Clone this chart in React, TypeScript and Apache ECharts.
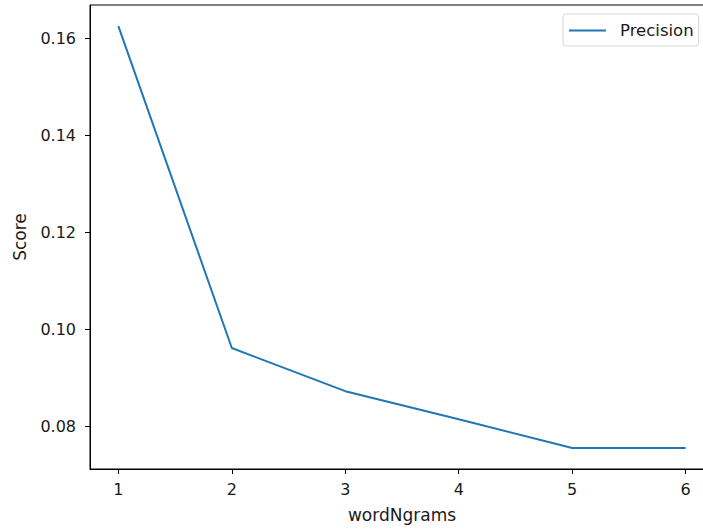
import React, { useEffect, useRef } from "react";
import * as echarts from "echarts";

const wordNgrams = [1, 2, 3, 4, 5, 6];
const precision = [0.1625, 0.0961, 0.0872, 0.0814, 0.0755, 0.0755];
const yTicks = [0.08, 0.1, 0.12, 0.14, 0.16];
const xTicks = [1, 2, 3, 4, 5, 6];

export default function App() {
  const ref = useRef<HTMLDivElement>(null);
  useEffect(() => {
    document.body.style.margin = "0";
    const chart = echarts.init(ref.current!, null, { renderer: "svg" });
    const font = "DejaVu Sans";
    const txt = "#1a1a1a";
    chart.setOption({
      animation: false,
      backgroundColor: "#fff",
      textStyle: { fontFamily: font },
      grid: {
        left: 90,
        top: 5,
        width: 624,
        height: 464,
        outerBoundsMode: "none",
        containLabel: false,
        show: true,
        borderColor: "#000",
        borderWidth: 1,
        backgroundColor: "transparent",
      },
      legend: {
        left: 563,
        top: 14,
        orient: "vertical",
        borderColor: "#d5d5d5",
        borderWidth: 1,
        borderRadius: 3,
        padding: [8, 5, 7, 6],
        itemWidth: 37,
        itemHeight: 17,
        itemGap: 10,
        textStyle: { fontSize: 16.5, color: txt, fontFamily: font, padding: [0, 0, 0, 9] },
        data: [{ name: "Precision", icon: "path://M0,7.5 L40,7.5 L40,9.5 L0,9.5 Z" }],
      },
      xAxis: {
        type: "value",
        min: 0.75,
        max: 6.25,
        name: "wordNgrams",
        nameLocation: "middle",
        nameGap: 37,
        nameTextStyle: { fontSize: 17, color: txt, fontFamily: font },
        splitLine: { show: false },
        axisLine: { show: true, lineStyle: { color: "#000", width: 1 } },
        axisTick: { show: true, length: 5, lineStyle: { color: "#000" }, customValues: xTicks },
        axisLabel: {
          fontSize: 16,
          color: txt,
          margin: 12,
          fontFamily: font,
          customValues: xTicks,
          formatter: (v: number) => String(v),
        },
      },
      yAxis: {
        type: "value",
        min: 0.07115,
        max: 0.16685,
        name: "Score",
        nameLocation: "middle",
        nameGap: 62,
        nameTextStyle: { fontSize: 17, color: txt, fontFamily: font },
        splitLine: { show: false },
        axisLine: { show: true, lineStyle: { color: "#000", width: 1 } },
        axisTick: { show: true, length: 5, lineStyle: { color: "#000" }, customValues: yTicks },
        axisLabel: {
          fontSize: 16,
          color: txt,
          margin: 14,
          fontFamily: font,
          customValues: yTicks,
          formatter: (v: number) => v.toFixed(2),
        },
      },
      series: [
        {
          name: "Precision",
          type: "line",
          symbol: "none",
          data: wordNgrams.map((x, i) => [x, precision[i]]),
          lineStyle: { color: "#1f77b4", width: 2 },
          itemStyle: { color: "#1f77b4" },
        },
      ],
    });
    return () => chart.dispose();
  }, []);
  return <div ref={ref} style={{ width: 703, height: 530 }} />;
}
